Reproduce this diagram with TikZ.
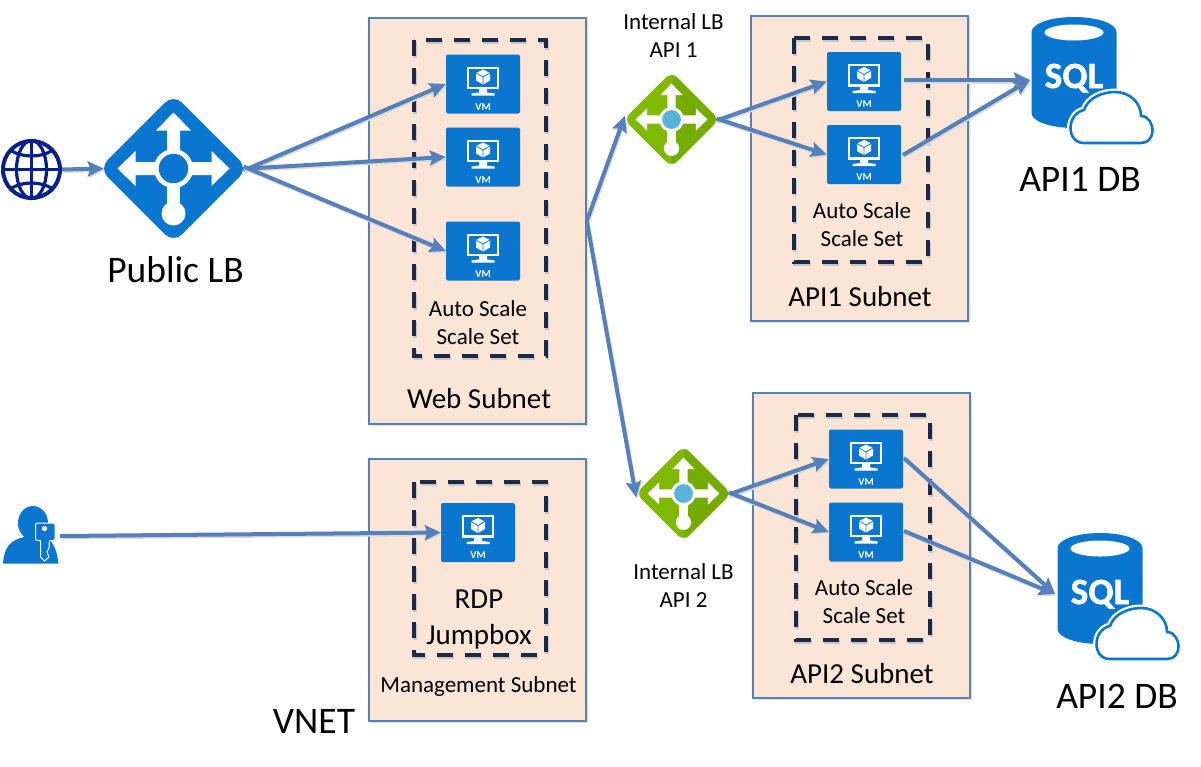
\documentclass[tikz,border=0pt]{standalone}
\usepackage{fontspec}
\setmainfont{Carlito}
\usetikzlibrary{arrows.meta,shapes.geometric,shadows}
\definecolor{azblue}{HTML}{0A76CF}
\definecolor{azgreen}{HTML}{7FBA00}
\definecolor{azgreendark}{HTML}{74AD00}
\definecolor{hubblue}{HTML}{59B4D9}
\definecolor{linkblue}{HTML}{5680BA}
\definecolor{subnetfill}{HTML}{FBE5D6}
\definecolor{dashnavy}{HTML}{1B2A47}
\definecolor{globenavy}{HTML}{08208C}
\tikzset{
  subnet/.style={draw=linkblue,line width=1.5pt,fill=subnetfill,drop shadow={shadow xshift=2pt,shadow yshift=-2pt,opacity=.25}},
  scaleset/.style={draw=dashnavy,line width=4pt,dash pattern=on 16pt off 12pt,preaction={draw=black!22,line width=4pt,dash pattern=on 16pt off 12pt,transform canvas={shift={(1pt,-1.5pt)}}}},
  vmbox/.style={rectangle,rounded corners=2pt,fill=azblue,text=white,font=\fontsize{10.5}{10.5}\selectfont\bfseries,minimum width=74pt,text height=52pt,text depth=0pt,inner ysep=3.5pt,inner xsep=0pt},
  lbshape/.style={diamond,aspect=1,inner sep=0pt,fill=#1},
  intlb/.style={lbshape=azgreen,rounded corners=8pt,minimum width=95.6pt,minimum height=95.6pt,
    path picture={\fill[azgreendark] (path picture bounding box.north) rectangle (path picture bounding box.south east);}},
  link/.style={draw=linkblue,line width=4pt,-{Stealth[length=16pt,width=15pt,inset=2.5pt]},preaction={draw=black!15,line width=4pt,transform canvas={shift={(1pt,-1.5pt)}}}},
  bigtext/.style={font=\fontsize{37.5}{37.5}\selectfont},
  midtext/.style={font=\fontsize{29}{29}\selectfont},
  smalltext/.style={font=\fontsize{23}{28}\selectfont,align=center},
  pics/lbglyph/.style={code={
    \foreach \a in {0,90,-90}
      \fill[white,rotate=\a] (-6.5,0) -- (-6.5,-38) -- (-17.5,-38) -- (0,-56) -- (17.5,-38) -- (6.5,-38) -- (6.5,0) -- cycle;
    \fill[white] (-6.5,0) rectangle (6.5,45);
    \fill[white] (0,45) circle (12pt);
    \fill[white] (0,0) circle (19.5pt);
    \fill[#1] (0,0) circle (14.7pt);
  }},
  pics/vmglyph/.style={code={
    \fill[white] (-16,-17.5) rectangle (16,5);
    \fill[azblue] (-14,-15.5) rectangle (14,2.5);
    \fill[white] (0,-14.5) -- (7,-11) -- (7,-3.5) -- (0,0.5) -- (-7,-3.5) -- (-7,-11) -- cycle;
    \draw[azblue,line width=.8pt] (-7,-11) -- (0,-7) -- (7,-11) (0,-7) -- (0,0.5);
    \fill[white] (-4,5) -- (4,5) -- (4,8.5) -- (11.5,9.5) -- (11.5,11.5) -- (-11.5,11.5) -- (-11.5,9.5) -- (-4,8.5) -- cycle;
  }},
  pics/sqlglyph/.style={code={
    \fill[azblue] (-42.5,-40) arc[start angle=180,end angle=0,x radius=42.5,y radius=-15] -- (42.5,41) arc[start angle=0,end angle=-180,x radius=42.5,y radius=-15] -- cycle;
    \fill[white] (0,-39.5) ellipse (29.5pt and 8pt);
    \node[anchor=base,white,inner sep=0pt,font=\fontsize{37}{37}\selectfont\bfseries\addfontfeature{FakeBold=1.5}] (text) at (0,16) {SQL};
    \draw[azblue,line width=2.6pt,fill=white,preaction={draw=white,line width=7pt}]
      (10,71) .. controls (-8,71) and (-8,42) .. (10,38) .. controls (14,26) and (28,20) .. (41,20)
      .. controls (56,20) and (67,31) .. (67,44) .. controls (75,44) and (78.5,53) .. (78.5,58)
      .. controls (78.5,66) and (74,71) .. (67,71) -- cycle;
  }}
}

\begin{document}
\begin{tikzpicture}[x=1pt,y=-1pt]
\useasboundingbox (0,0) rectangle (1201,766);

\node[subnet,minimum width=217pt,minimum height=406pt] (webnet) at (477.5,221) {};
\node[subnet,minimum width=217pt,minimum height=262pt] (mgmtnet) at (477.5,590) {};
\node[subnet,minimum width=217pt,minimum height=305pt] (apinet1) at (859.5,168.5) {};
\node[subnet,minimum width=217pt,minimum height=305pt] (apinet2) at (861.5,545.5) {};

\draw[scaleset] (414,40) rectangle (546,356);
\draw[scaleset] (414,482) rectangle (546,655);
\draw[scaleset] (794,38) rectangle (928,262);
\draw[scaleset] (796,415) rectangle (930,640);

\foreach \nm/\px/\py in {web1/483/84,web2/483/157,web3/483/251,jump/478/532.5,vma1/864/81.5,vma2/864/154.5,vmb1/866/459,vmb2/866/532}
  {
    \node[vmbox] (\nm) at (\px,\py) {VM};
    \pic at (\nm) {vmglyph};
  }

\coordinate (dbain) at (1030,80);
\coordinate (dbbin) at (1055,594);
\coordinate (jumpout) at (60,536);
\coordinate (globeout) at (62,169.5);
\coordinate (vma1out) at (904,80);
\coordinate (vma2out) at (903,155);
\coordinate (vmb1out) at (904,458);
\coordinate (vmb2out) at (904,531);

\node[lbshape=azblue,rounded corners=12pt,minimum width=149pt,minimum height=149pt] (publb) at (173.5,168.5) {};
\node[intlb] (intlb1) at (671.5,119.5) {};
\node[intlb] (intlb2) at (683.5,493.5) {};

\draw[link] (globeout) -- ([xshift=5pt]publb.west);
\foreach \nm in {web1,web2,web3}
  {
    \draw[link,shorten <=-5pt] (publb.east) -- (\nm.west);
  }
\draw[link,shorten >=-4pt] (webnet.east) -- (intlb1.west);
\draw[link,shorten >=-4pt] (webnet.east) -- (intlb2.west);
\foreach \nm in {vma1,vma2}
  {
    \draw[link,shorten <=-3pt] (intlb1.east) -- (\nm.west);
  }
\foreach \nm in {vmb1,vmb2}
  {
    \draw[link,shorten <=-3pt] (intlb2.east) -- (\nm.west);
  }
\draw[link] (vma1out) -- (dbain);
\draw[link] (vma2out) -- (dbain);
\draw[link] (vmb1out) -- (dbbin);
\draw[link] (vmb2out) -- (dbbin);
\draw[link] (jumpout) -- (jump.west);

\pic at (publb) {lbglyph=azblue};
\pic[scale=.64] at (intlb1) {lbglyph=hubblue};
\pic[scale=.64] at (intlb2) {lbglyph=hubblue};

\node[circle,draw=globenavy,line width=4pt,fill=white,minimum size=57pt,inner sep=0pt] (globe) at (31.5,169.5) {};
\draw[globenavy,line width=3.2pt] (globe.north) -- (globe.south) (globe.west) -- (globe.east);
\draw[globenavy,line width=3.2pt] (31.5,169.5) ellipse (15pt and 29pt);
\draw[globenavy,line width=3.2pt] (10,150) .. controls (22,158) and (41,158) .. (53,150);
\draw[globenavy,line width=3.2pt] (10,189) .. controls (22,181) and (41,181) .. (53,189);

\node[ellipse,fill=azblue,minimum width=30pt,minimum height=34pt,inner sep=0pt] (admin) at (33,523) {};
\fill[azblue] (3,563.5) .. controls (4,548) and (10,540) .. (24,537) -- (46,537) .. controls (54,542) and (57,552) .. (58.5,563.5) -- cycle;
\filldraw[azblue,draw=white,line width=1pt,rounded corners=2pt] (35.5,523) rectangle (55,540.5);
\filldraw[azblue,draw=white,line width=1pt] (40.5,540) -- (40.5,557) -- (44.5,561) -- (49,557) -- (47,552) -- (49,548) -- (49,540);
\fill[azblue] (41,537) rectangle (48.5,541.5);
\fill[white] (44.5,528.5) circle (2.6pt);

\pic (dba) at (1074,72) {sqlglyph};
\pic (dbb) at (1100,588) {sqlglyph};

\node[bigtext] (publabel) at (175.5,270) {Public LB};
\node[bigtext] (dbalabel) at (1080,179) {API1 DB};
\node[bigtext] (dbblabel) at (1117,696) {API2 DB};
\node[bigtext] (vnetlabel) at (314,721) {VNET};
\node[midtext] (weblabel) at (479,398.5) {Web Subnet};
\node[midtext] (apialabel) at (860,297) {API1 Subnet};
\node[midtext] (apiblabel) at (862,674) {API2 Subnet};
\node[midtext,font=\fontsize{29}{36}\selectfont,align=center] (rdplabel) at (479,620) {RDP\\Jumpbox};
\node[smalltext] (mgmtlabel) at (478.5,686) {Management Subnet};
\node[smalltext] (ssweb) at (478,323) {Auto Scale\\Scale Set};
\node[smalltext] (ssapia) at (862,225) {Auto Scale\\Scale Set};
\node[smalltext] (ssapib) at (864,602) {Auto Scale\\Scale Set};
\node[smalltext] (lbalabel) at (673.5,36) {Internal LB\\API 1};
\node[smalltext] (lbblabel) at (683.5,586) {Internal LB\\API 2};
\end{tikzpicture}
\end{document}
